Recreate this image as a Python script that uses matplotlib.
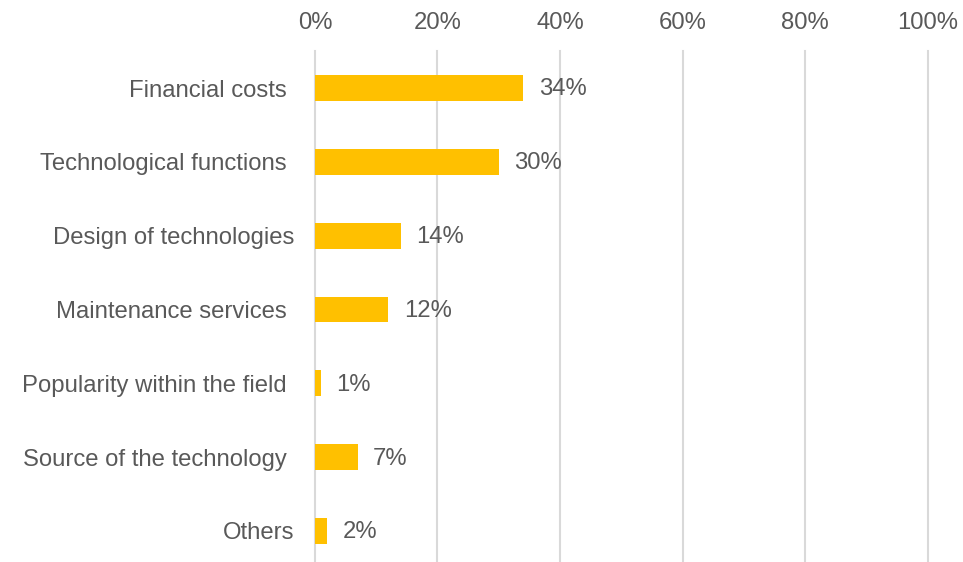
import matplotlib.pyplot as plt
from matplotlib.transforms import ScaledTranslation

# Factors considered when choosing a technology (share of answers, %)
factors = ['Financial costs', 'Technological functions', 'Design of technologies',
           'Maintenance services', 'Popularity within the field',
           'Source of the technology', 'Others']
shares = [34, 30, 14, 12, 1, 7, 2]
ticks = [0, 20, 40, 60, 80, 100]

plt.rcParams['font.family'] = ['Liberation Sans', 'DejaVu Sans']
text_color = '#595959'
fs = 17.2

fig = plt.figure(figsize=(9.63, 5.62), dpi=100)
ax = fig.add_axes([0.327, 0.0, 0.6365, 0.909])

y = list(range(len(factors)))
ax.barh(y, shares, height=0.35, color='#FFC000', zorder=3)

for yi, v in zip(y, shares):
    ax.annotate(f'{v}%', (v, yi), xytext=(11, -1), textcoords='offset points',
                ha='left', va='center', fontsize=fs, color=text_color)

ax.set_xlim(0, 100)
ax.set_ylim(6.42, -0.5)
ax.set_xticks(ticks)
ax.set_xticklabels([f'{t}%' for t in ticks])
ax.xaxis.tick_top()
ax.set_yticks(y)
ax.set_yticklabels(factors)
ax.tick_params(axis='x', length=0, pad=12, labelsize=fs, labelcolor=text_color)
ax.tick_params(axis='y', length=0, pad=20, labelsize=fs, labelcolor=text_color)

# a couple of labels sit a little further right
for lab in ax.get_yticklabels():
    if lab.get_text() in ('Design of technologies', 'Others'):
        lab.set_transform(lab.get_transform() + ScaledTranslation(7 / 100, 0, fig.dpi_scale_trans))

ax.grid(axis='x', color='#D9D9D9', linewidth=1.5, zorder=0)
for gl in ax.get_xgridlines():
    gl.set_clip_on(False)
for s in ax.spines.values():
    s.set_visible(False)

fig.savefig('out.png', dpi=100)
